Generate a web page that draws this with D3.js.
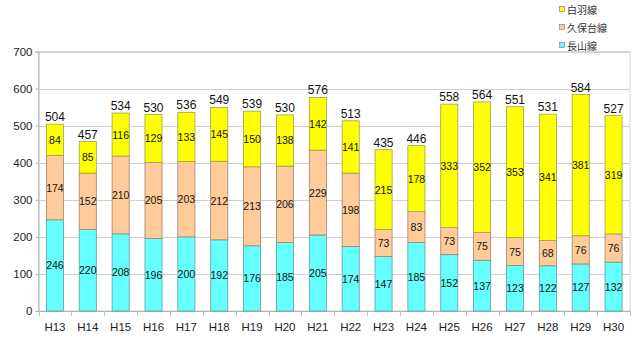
<!DOCTYPE html>
<html><head><meta charset="utf-8">
<script src="https://cdn.jsdelivr.net/npm/d3@7"></script>
<style>body{margin:0;background:#fff;} svg{display:block;}</style>
</head><body><svg id="c" width="640" height="341"></svg>
<script>
const categories = ["H13","H14","H15","H16","H17","H18","H19","H20","H21","H22","H23","H24","H25","H26","H27","H28","H29","H30"];
const nagayama = [246,220,208,196,200,192,176,185,205,174,147,185,152,137,123,122,127,132];
const kubodai  = [174,152,210,205,203,212,213,206,229,198,73,83,73,75,75,68,76,76];
const shiraha  = [84,85,116,129,133,145,150,138,142,141,215,178,333,352,353,341,381,319];
const totals   = [504,457,534,530,536,549,539,530,576,513,435,446,558,564,551,531,584,527];
const seriesNames = ["長山線","久保台線","白羽線"];
const yTicks = [0,100,200,300,400,500,600,700];
const colors = ["#66FFFF","#FFCC99","#FFFF00"];

const svg = d3.select("#c");
const L = 38.5, R = 630, T = 51.5, B = 311;
const x = d3.scaleBand().domain(categories).range([L, R]).paddingInner(0.48).paddingOuter(0.24);
const xb = d3.scaleBand().domain(categories).range([L, R]);
const y = d3.scaleLinear().domain([0,700]).range([B, T]);

// plot border
svg.append("rect").attr("x",L).attr("y",T).attr("width",R-L).attr("height",B-T)
  .attr("fill","none").attr("stroke","#d9d9d9");
// grid
svg.append("g").selectAll("line").data(yTicks.slice(1)).join("line")
  .attr("x1",L).attr("x2",R).attr("y1",d=>Math.round(y(d))+0.5).attr("y2",d=>Math.round(y(d))+0.5)
  .attr("stroke","#d0d0d0");

// y axis
const ya = svg.append("g").attr("transform",`translate(${L},0)`)
  .call(d3.axisLeft(y).tickValues(yTicks).tickSize(3).tickPadding(3));
ya.select(".domain").attr("stroke","#b0b0b0");
ya.selectAll(".tick line").attr("stroke","#b0b0b0");
ya.selectAll("text").attr("font-family","Arial, Liberation Sans, sans-serif").attr("font-size","11.5px").attr("fill","#222");

// x axis line
svg.append("line").attr("x1",L).attr("x2",R).attr("y1",B+0.5).attr("y2",B+0.5).attr("stroke","#b0b0b0");
// x boundary ticks
svg.append("g").selectAll("line").data(categories.concat(["__end"])).join("line")
  .attr("x1",(d,i)=>Math.round(L + i*xb.bandwidth())+0.5).attr("x2",(d,i)=>Math.round(L + i*xb.bandwidth())+0.5)
  .attr("y1",B).attr("y2",B+5).attr("stroke","#c0c0c0");
// x labels
svg.append("g").selectAll("text").data(categories).join("text")
  .attr("x",d=>xb(d)+xb.bandwidth()/2).attr("y",331)
  .attr("text-anchor","middle").attr("font-family","Arial, Liberation Sans, sans-serif")
  .attr("font-size","11.5px").attr("fill","#222").text(d=>d);

// stacked data
const rows = categories.map((c,i)=>({cat:c, s0:nagayama[i], s1:kubodai[i], s2:shiraha[i]}));
const stack = d3.stack().keys(["s0","s1","s2"])(rows);
const strokes = ["#5f9ea0","#a0826d","#a0a050"];
stack.forEach((layer,li)=>{
  const g = svg.append("g");
  g.selectAll("rect").data(layer).join("rect")
    .attr("x",d=>x(d.data.cat)).attr("width",x.bandwidth())
    .attr("y",d=>y(d[1])).attr("height",d=>y(d[0])-y(d[1]))
    .attr("fill",colors[li]).attr("stroke",strokes[li]).attr("stroke-width",0.8);
  g.selectAll("text").data(layer).join("text")
    .attr("x",d=>x(d.data.cat)+x.bandwidth()/2)
    .attr("y",d=>(y(d[0])+y(d[1]))/2+4)
    .attr("text-anchor","middle").attr("font-family","Arial, Liberation Sans, sans-serif")
    .attr("font-size","10.5px").attr("fill","#111")
    .text(d=>d[1]-d[0]);
});
// totals
svg.append("g").selectAll("text").data(rows).join("text")
  .attr("x",d=>x(d.cat)+x.bandwidth()/2).attr("y",(d,i)=>y(totals[i])-3)
  .attr("text-anchor","middle").attr("font-family","Arial, Liberation Sans, sans-serif")
  .attr("font-size","12px").attr("fill","#111").text((d,i)=>totals[i]);

// legend
const legendOrder = [2,1,0];
const lg = svg.append("g");
legendOrder.forEach((si,k)=>{
  const yy = 10 + k*18;
  lg.append("rect").attr("x",559.5).attr("y",yy-3.5).attr("width",5).attr("height",5)
    .attr("fill",colors[si]).attr("stroke","#888").attr("stroke-width",0.7);
  lg.append("text").attr("x",567).attr("y",yy+4).attr("font-family","Noto Sans CJK JP, sans-serif")
    .attr("font-size","10px").attr("fill","#333").text(seriesNames[si]);
});
</script></body></html>
